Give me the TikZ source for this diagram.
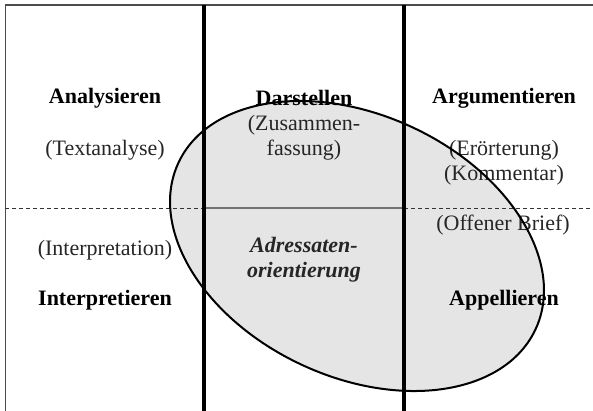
\documentclass[tikz,border=0pt]{standalone}
\usepackage{fontspec}
\setmainfont{Liberation Serif}
\usetikzlibrary{positioning}
\tikzstyle{heading} = [ font=\fontsize{11}{12.5}\selectfont\bfseries, text=black, inner sep=0pt ]
\tikzstyle{genre} = [ font=\fontsize{11}{12.5}\selectfont, text=black!85, align=center, inner sep=0pt ]
\tikzstyle{focus} = [ font=\fontsize{11}{12.5}\selectfont\bfseries\itshape, text=black!85, align=center, inner sep=0pt ]
\tikzstyle{divider} = [ draw, line width=2pt ]
\tikzstyle{frame} = [ draw, line width=0.75pt, black!70 ]
\tikzstyle{midline} = [ draw, line width=0.5pt, black!80, dash pattern=on 2pt off 1.5pt ]

\begin{document}
\begin{tikzpicture}[x=0.5pt, y=-0.5pt, node distance=26pt]
\useasboundingbox (0,0) rectangle (593,411);

% Oval behind the grid
\fill [black!10, rotate around={-25:(357,246)}] (357,246) ellipse [x radius=197, y radius=131];

% Grid
\path [frame] (5,5) -- (593,5);
\path [frame] (5.5,5) -- (5.5,411);
\path [midline] (5,208) -- (204,208);
\path [midline] (404,208) -- (593,208);
\path [draw, line width=0.75pt, black!55] (204,208) -- (404,208);
\path [divider] (204,5) -- (204,411);
\path [divider] (404,5) -- (404,411);

% Upper row
\node [heading] (analysieren) at (105,98) {Analysieren};
\node [genre, below of=analysieren] (textanalyse) {(Textanalyse)};
\node [heading] (darstellen) at (304,98) {Darstellen};
\node [genre] (zusammenfassung) at (304,137.5) {(Zusammen-\\fassung)};
\node [heading] (argumentieren) at (504,98) {Argumentieren};
\node [genre] (eroerterung) at (504,162.5) {(Erörterung)\\(Kommentar)};

% Lower row
\node [heading] (interpretieren) at (105,300) {Interpretieren};
\node [genre, above of=interpretieren, node distance=25pt] (interpretation) {(Interpretation)};
\node [focus] (adressaten) at (304,259.5) {Adressaten-\\orientierung};
\node [heading] (appellieren) at (504,300) {Appellieren};
\node [genre] (brief) at (503,225) {(Offener Brief)};

% Oval outline on top
\draw [line width=1pt, rotate around={-25:(357,246)}] (357,246) ellipse [x radius=197, y radius=131];
\end{tikzpicture}
\end{document}
